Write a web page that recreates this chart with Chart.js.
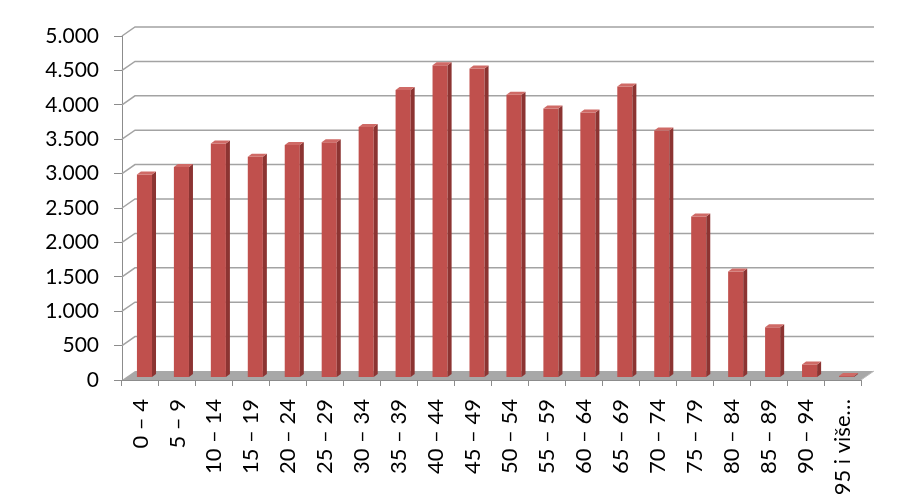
<!DOCTYPE html>
<html>
<head>
<meta charset="utf-8">
<script src="https://cdn.jsdelivr.net/npm/chart.js@4/dist/chart.umd.min.js"></script>
<style>
  html, body { margin: 0; padding: 0; background: #fff; }
  #wrap { width: 921px; height: 495px; }
</style>
</head>
<body>
<div id="wrap"><canvas id="ageChart"></canvas></div>
<script>
// ===== data =====
const ageGroups = ["0 – 4", "5 – 9", "10 – 14", "15 – 19", "20 – 24", "25 – 29", "30 – 34",
  "35 – 39", "40 – 44", "45 – 49", "50 – 54", "55 – 59", "60 – 64", "65 – 69", "70 – 74",
  "75 – 79", "80 – 84", "85 – 89", "90 – 94", "95 i više…"];
const population = [2950, 3060, 3400, 3210, 3380, 3420, 3640, 4180, 4540, 4490,
  4110, 3910, 3850, 4230, 3590, 2340, 1540, 730, 190, 20];
const yTickLabels = ["0", "500", "1.000", "1.500", "2.000", "2.500", "3.000", "3.500", "4.000", "4.500", "5.000"];

// depth of the fake 3d box and of the bars
const wallDX = 13, wallDY = 9;
const barShiftX = 4, barShiftY = 2.5;
const barDX = 4, barDY = 3;

const fontFam = "Lato, 'Open Sans', sans-serif";

// ===== 3d look: floor, back wall grid, bar sides =====
const fake3d = {
  id: "fake3d",
  beforeDatasetsDraw(chart) {
    const { ctx, chartArea: a, scales: { y } } = chart;
    ctx.save();
    // floor
    const y0 = y.getPixelForValue(0);
    ctx.fillStyle = "#a8a8a8";
    ctx.beginPath();
    ctx.moveTo(a.left, y0);
    ctx.lineTo(a.right, y0);
    ctx.lineTo(a.right + wallDX, y0 - wallDY);
    ctx.lineTo(a.left + wallDX, y0 - wallDY);
    ctx.closePath();
    ctx.fill();
    ctx.strokeStyle = "#bdbdbd";
    ctx.lineWidth = 1;
    ctx.beginPath();
    ctx.moveTo(a.right, y0);
    ctx.lineTo(a.right + wallDX, y0 - wallDY);
    ctx.stroke();
    // grid on side + back wall
    ctx.strokeStyle = "#a3a3a3";
    ctx.lineWidth = 1.5;
    y.ticks.forEach(t => {
      if (t.value === 0) return;
      const py = y.getPixelForValue(t.value);
      ctx.beginPath();
      ctx.moveTo(a.left, py);
      ctx.lineTo(a.left + wallDX, py - wallDY);
      ctx.lineTo(a.right + wallDX, py - wallDY);
      ctx.stroke();
    });
    ctx.restore();
    // bars are drawn by chart.js, pushed a bit into the box
    ctx.save();
    ctx.translate(barShiftX, -barShiftY);
  },
  afterDatasetsDraw(chart) {
    const { ctx } = chart;
    ctx.restore();
    const meta = chart.getDatasetMeta(0);
    ctx.save();
    ctx.translate(barShiftX, -barShiftY);
    meta.data.forEach(bar => {
      const { x, y, width, base } = bar.getProps(["x", "y", "width", "base"], true);
      const l = x - width / 2, r = x + width / 2;
      // side
      ctx.fillStyle = "#8c3432";
      ctx.beginPath();
      ctx.moveTo(r, y);
      ctx.lineTo(r + barDX, y - barDY);
      ctx.lineTo(r + barDX, base - barDY);
      ctx.lineTo(r, base);
      ctx.closePath();
      ctx.fill();
      // top
      ctx.fillStyle = "#cf6a66";
      ctx.beginPath();
      ctx.moveTo(l, y);
      ctx.lineTo(r, y);
      ctx.lineTo(r + barDX, y - barDY);
      ctx.lineTo(l + barDX, y - barDY);
      ctx.closePath();
      ctx.fill();
    });
    ctx.restore();
  }
};

// ===== chart =====
new Chart(document.getElementById("ageChart"), {
  type: "bar",
  data: {
    labels: ageGroups,
    datasets: [{
      data: population,
      backgroundColor: "#c0504d",
      borderWidth: 0,
      barPercentage: 0.51,
      categoryPercentage: 0.8,
      clip: false
    }]
  },
  options: {
    responsive: true,
    maintainAspectRatio: false,
    animation: false,
    devicePixelRatio: 1,
    layout: { padding: { top: 36, right: 60, left: 0, bottom: 0 } },
    plugins: { legend: { display: false }, tooltip: { enabled: false } },
    scales: {
      x: {
        grid: { drawOnChartArea: false, drawTicks: true, tickLength: 6, color: "#8c8c8c" },
        border: { color: "#8c8c8c", width: 1 },
        ticks: {
          minRotation: 90, maxRotation: 90, autoSkip: false, padding: 13,
          color: "#000", font: { family: fontFam, size: 22 }
        },
        afterFit(s) { s.height = 115; }
      },
      y: {
        min: 0, max: 5000,
        grid: { drawOnChartArea: false, drawTicks: true, tickLength: 8, color: "#8c8c8c" },
        border: { color: "#8c8c8c", width: 1 },
        ticks: {
          stepSize: 500, padding: 15, color: "#000",
          font: { family: fontFam, size: 21 },
          callback: (v, i) => yTickLabels[i]
        },
        afterFit(s) { s.width = 122; }
      }
    }
  },
  plugins: [fake3d]
});
</script>
</body>
</html>
